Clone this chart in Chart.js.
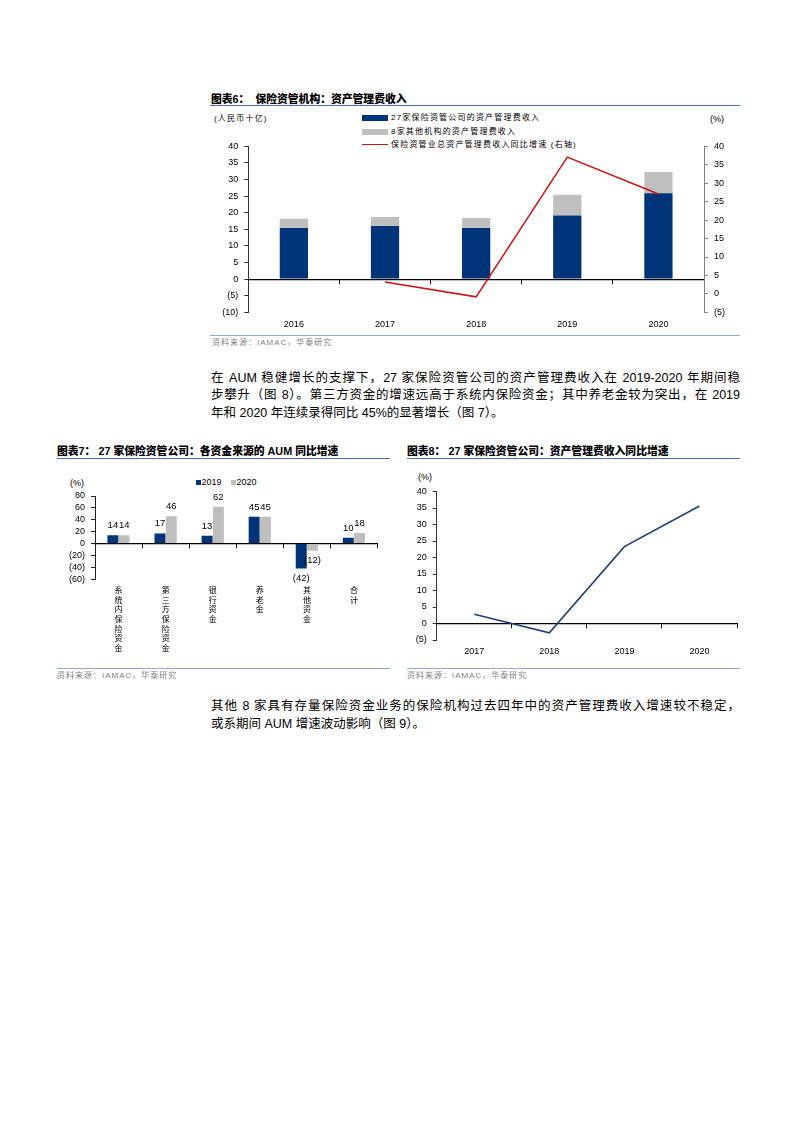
<!DOCTYPE html>
<html><head><meta charset="utf-8">
<script src="https://cdn.jsdelivr.net/npm/chart.js@4.4.1/dist/chart.umd.min.js"></script>
<style>
html,body{margin:0;padding:0;background:#fff;}
body{width:793px;height:1122px;position:relative;overflow:hidden;font-family:"Liberation Sans","Noto Sans CJK SC",sans-serif;color:#000;}
.abs{position:absolute;white-space:nowrap;line-height:1;}
.title{font-weight:900;font-size:10.8px;}
.rule{position:absolute;height:0;border-top:1.3px solid #4A6FB0;}
.srule{position:absolute;height:0;border-top:1px solid #8FA8D4;}
.src{font-size:8px;color:#7f7f7f;letter-spacing:1px;}
.lg{font-size:8px;letter-spacing:1.2px;}
.cv{position:absolute;}
.pl{position:absolute;left:211px;width:529px;font-size:12.5px;line-height:17.6px;height:17.6px;white-space:nowrap;}
.jl{text-align:justify;text-align-last:justify;white-space:normal;overflow:hidden;}
</style>
</head>
<body>
<!-- Chart 6 -->
<div class="abs title" style="left:211px;top:93.6px;">图表6：&nbsp; 保险资管机构：资产管理费收入</div>
<div class="rule" style="left:210px;top:105px;width:530px;"></div>
<div class="abs lg" style="left:214px;top:115px;">(人民币十亿)</div>
<div class="abs" style="left:710px;top:114.5px;font-size:9px;">(%)</div>
<div class="abs" style="left:362px;top:114.7px;width:26px;height:6px;background:#003478;"></div>
<div class="abs lg" style="left:391px;top:113.7px;">27家保险资管公司的资产管理费收入</div>
<div class="abs" style="left:362px;top:128.7px;width:26px;height:6px;background:#BFBFBF;"></div>
<div class="abs lg" style="left:391px;top:127.7px;">8家其他机构的资产管理费收入</div>
<div class="abs" style="left:362px;top:144.3px;width:26px;height:0;border-top:1.5px solid #CC1111;"></div>
<div class="abs lg" style="left:391px;top:141px;">保险资管业总资产管理费收入同比增速 (右轴)</div>
<div class="cv" style="left:205px;top:135px;width:535px;height:200px;"><canvas id="c1"></canvas></div>
<div class="srule" style="left:210px;top:335px;width:530px;"></div>
<div class="abs src" style="left:212px;top:339.3px;">资料来源：IAMAC，华泰研究</div>

<!-- paragraph 1 -->
<div class="pl jl" style="top:369.5px;">在 AUM 稳健增长的支撑下，27 家保险资管公司的资产管理费收入在 2019-2020 年期间稳</div>
<div class="pl jl" style="top:387.2px;">步攀升（图 8）。第三方资金的增速远高于系统内保险资金；其中养老金较为突出，在 2019</div>
<div class="pl" style="top:404.5px;">年和 2020 年连续录得同比 45%的显著增长（图 7）。</div>

<!-- Chart 7 -->
<div class="abs title" style="left:57px;top:446px;">图表7： 27 家保险资管公司：各资金来源的 AUM 同比增速</div>
<div class="rule" style="left:57px;top:457.8px;width:333px;"></div>
<div class="abs" style="left:196px;top:479.5px;width:5px;height:5px;background:#003478;"></div>
<div class="abs" style="left:201.5px;top:477.5px;font-size:9px;">2019</div>
<div class="abs" style="left:230.5px;top:479.5px;width:5px;height:5px;background:#BFBFBF;"></div>
<div class="abs" style="left:236.5px;top:477.5px;font-size:9px;">2020</div>
<div class="abs" style="left:70px;top:479px;font-size:9px;">(%)</div>
<div class="cv" style="left:55px;top:480px;width:340px;height:190px;"><canvas id="c2"></canvas></div>
<div class="srule" style="left:57px;top:667.5px;width:333px;"></div>
<div class="abs src" style="left:57px;top:671.5px;">资料来源：IAMAC，华泰研究</div>

<!-- Chart 8 -->
<div class="abs title" style="left:407px;top:446px;">图表8： 27 家保险资管公司：资产管理费收入同比增速</div>
<div class="rule" style="left:407px;top:457.8px;width:333px;"></div>
<div class="abs" style="left:418px;top:473px;font-size:9px;">(%)</div>
<div class="cv" style="left:405px;top:480px;width:335px;height:190px;"><canvas id="c3"></canvas></div>
<div class="srule" style="left:407px;top:667.5px;width:333px;"></div>
<div class="abs src" style="left:407px;top:671.5px;">资料来源：IAMAC，华泰研究</div>

<!-- paragraph 2 -->
<div class="pl jl" style="top:697.9px;">其他 8 家具有存量保险资金业务的保险机构过去四年中的资产管理费收入增速较不稳定，</div>
<div class="pl" style="top:716.2px;">或系期间 AUM 增速波动影响（图 9）。</div>

<script>
// ---------- data ----------
const years6 = ['2016','2017','2018','2019','2020'];
const fee27Co = [15.4, 16.0, 15.4, 19.2, 25.9];
const fee8Other = [2.8, 2.7, 3.0, 6.2, 6.4];
const feeGrowthTotal = [null, 3.2, -0.8, 37.1, 27.1];

const sources7 = ['系统内保险资金','第三方保险资金','银行资金','养老金','其他资金','合计'];
const aum2019 = [14, 17, 13, 45, -42, 10];
const aum2020 = [14, 46, 62, 45, -12, 18];

const years8 = ['2017','2018','2019','2020'];
const feeGrowth27 = [2.8, -2.8, 23.3, 35.6];

// ---------- helpers ----------
const fmt = v => v < 0 ? '(' + Math.abs(v) + ')' : String(v);
const tickFont = {family: '"Liberation Sans", Arial, sans-serif', size: 9};
const NAVY = '#003478', GRAY = '#BFBFBF', RED = '#CC1111', LNAVY = '#1D3F7E';
Chart.defaults.animation = false;
Chart.defaults.color = '#000';

function yAxis(min, max, step, width, pos, col) {
  return {
    position: pos, min: min, max: max,
    ticks: {stepSize: step, callback: v => fmt(v), font: tickFont, color: '#000', padding: 6, autoSkip: false},
    grid: {drawOnChartArea: false, drawTicks: true, tickLength: 4, color: col, tickColor: col},
    border: {display: true, color: col, width: 1},
    afterFit: s => { s.width = width; }
  };
}
function zeroAxis(yId) {
  const p = {}; p[yId] = 0;
  return {
    type: 'category', position: p, offset: true,
    grid: {offset: true, drawOnChartArea: false, drawTicks: true, tickLength: 4, color: '#000', tickColor: '#000'},
    border: {display: true, color: '#000', width: 1.2},
    ticks: {display: false}
  };
}
function labelAxis(height, pad, font, extra) {
  return Object.assign({
    type: 'category', position: 'bottom', offset: true,
    grid: {display: false, drawTicks: false, offset: true},
    border: {display: false},
    ticks: {font: font, color: '#000', padding: pad, maxRotation: 0, minRotation: 0, autoSkip: false},
    afterFit: s => { s.height = height; }
  }, extra || {});
}

// ---------- chart 6 ----------
new Chart(document.getElementById('c1'), {
  type: 'bar',
  data: {
    labels: years6,
    datasets: [
      {type: 'line', label: '保险资管业总资产管理费收入同比增速 (右轴)', data: feeGrowthTotal, yAxisID: 'y1', xAxisID: 'x',
       borderColor: RED, borderWidth: 1.5, pointRadius: 0, tension: 0, order: 0, spanGaps: false},
      {label: '27家保险资管公司的资产管理费收入', data: fee27Co, backgroundColor: NAVY, yAxisID: 'y', xAxisID: 'x',
       barPercentage: 0.31, categoryPercentage: 1, stack: 's', order: 1},
      {label: '8家其他机构的资产管理费收入', data: fee8Other, backgroundColor: GRAY, yAxisID: 'y', xAxisID: 'x',
       barPercentage: 0.31, categoryPercentage: 1, stack: 's', order: 1}
    ]
  },
  options: {
    responsive: true, maintainAspectRatio: false,
    layout: {padding: {top: 10, right: 0, bottom: 0, left: 0}},
    plugins: {legend: {display: false}, tooltip: {enabled: false}},
    scales: {
      x: labelAxis(22.7, 7, tickFont, {stacked: true}),
      xz: zeroAxis('y'),
      y: Object.assign(yAxis(-10, 40, 5, 43.3, 'left', '#333'), {stacked: true}),
      y1: yAxis(-5, 40, 5, 36, 'right', '#808080')
    }
  }
});

// ---------- chart 7 ----------
const barLabels = {
  id: 'barLabels',
  afterDatasetsDraw(chart) {
    const ctx = chart.ctx;
    ctx.save();
    ctx.font = '9.5px "Liberation Sans", Arial, sans-serif';
    ctx.fillStyle = '#000';
    ctx.textAlign = 'center';
    chart.data.datasets.forEach((ds, i) => {
      const meta = chart.getDatasetMeta(i);
      meta.data.forEach((el, j) => {
        const v = ds.data[j];
        if (v >= 0) { ctx.textBaseline = 'bottom'; ctx.fillText(fmt(v), el.x, el.y - 5); }
        else { ctx.textBaseline = 'top'; ctx.fillText(fmt(v), el.x, el.y + 5); }
      });
    });
    ctx.restore();
  }
};
new Chart(document.getElementById('c2'), {
  type: 'bar',
  data: {
    labels: sources7.map(s => s.split('')),
    datasets: [
      {label: '2019', data: aum2019, backgroundColor: NAVY, barPercentage: 0.97, categoryPercentage: 0.48},
      {label: '2020', data: aum2020, backgroundColor: GRAY, barPercentage: 0.97, categoryPercentage: 0.48}
    ]
  },
  options: {
    responsive: true, maintainAspectRatio: false,
    layout: {padding: {top: 16, right: 17.5, bottom: 0, left: 0}},
    plugins: {legend: {display: false}, tooltip: {enabled: false}},
    scales: {
      x: labelAxis(90.7, 6, {family: '"Noto Sans CJK SC", sans-serif', size: 8, lineHeight: 1.2}),
      xz: zeroAxis('y'),
      y: yAxis(-60, 80, 20, 40, 'left', '#222')
    }
  },
  plugins: [barLabels]
});

// ---------- chart 8 ----------
new Chart(document.getElementById('c3'), {
  type: 'line',
  data: {
    labels: years8,
    datasets: [
      {label: '资产管理费收入同比增速', data: feeGrowth27, borderColor: LNAVY, borderWidth: 1.6, pointRadius: 0, tension: 0}
    ]
  },
  options: {
    responsive: true, maintainAspectRatio: false,
    layout: {padding: {top: 11.5, right: 3, bottom: 0, left: 0}},
    plugins: {legend: {display: false}, tooltip: {enabled: false}},
    scales: {
      x: labelAxis(30, 6, tickFont),
      xz: zeroAxis('y'),
      y: yAxis(-5, 40, 5, 31.7, 'left', '#333')
    }
  }
});
</script>
</body></html>
